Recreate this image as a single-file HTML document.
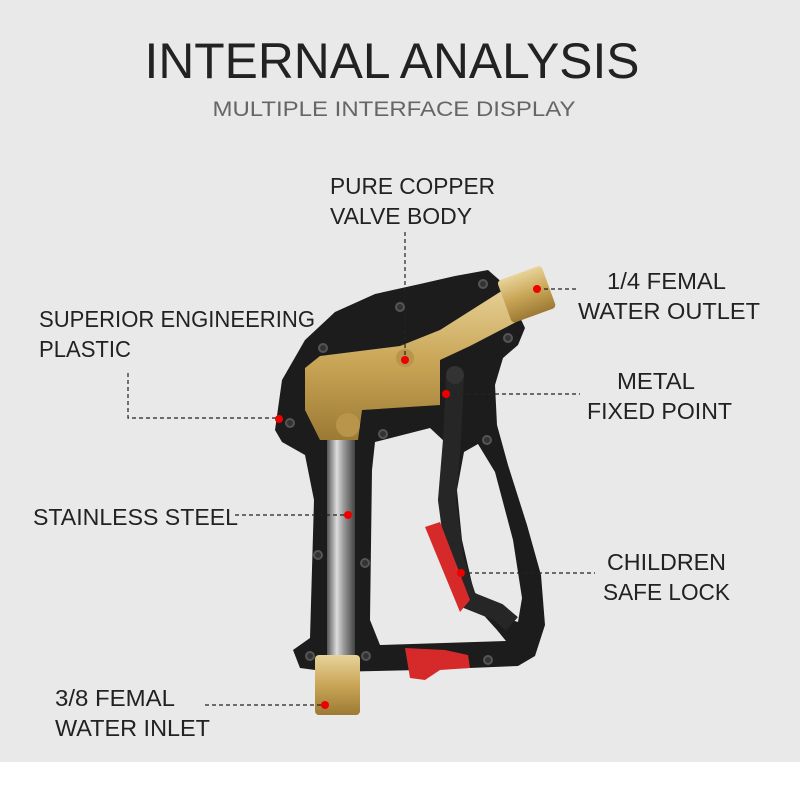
<!DOCTYPE html>
<html><head><meta charset="utf-8"><style>
html,body{margin:0;padding:0;background:#fff}
svg{display:block}
text{font-family:"Liberation Sans",sans-serif}
</style></head><body>
<svg width="800" height="794" viewBox="0 0 800 794" xmlns="http://www.w3.org/2000/svg">
<defs>
<linearGradient id="brass" x1="0" y1="0" x2="0" y2="1">
<stop offset="0" stop-color="#e8d39a"/><stop offset="0.5" stop-color="#c9a657"/><stop offset="1" stop-color="#9c7a34"/>
</linearGradient>
<linearGradient id="steel" x1="0" y1="0" x2="1" y2="0">
<stop offset="0" stop-color="#555"/><stop offset="0.35" stop-color="#ddd"/><stop offset="0.6" stop-color="#999"/><stop offset="1" stop-color="#444"/>
</linearGradient>
</defs>
<rect width="800" height="794" fill="#fff"/>
<rect width="800" height="762" fill="#e9e9e9"/>

<text x="392" y="78" text-anchor="middle" font-size="50" fill="#222" textLength="495" lengthAdjust="spacingAndGlyphs">INTERNAL ANALYSIS</text>
<text x="394" y="116" text-anchor="middle" font-size="21" fill="#666" textLength="363" lengthAdjust="spacingAndGlyphs">MULTIPLE INTERFACE DISPLAY</text>

<!-- body -->
<path d="M275,430 L282,380 L305,340 L335,312 L375,294 L420,284 L455,276 L488,270 L505,285 L525,328 L518,345 L503,358 L495,385 L497,425 L508,465 L527,525 L541,575 L545,625 L535,656 L518,666 L420,670 L330,672 L300,668 L293,650 L310,638 L314,500 L305,455 L282,442 Z" fill="#1c1c1c"/>
<path d="M375,442 L430,428 L445,442 L440,482 L450,542 L470,600 L497,630 L506,641 L380,645 L370,620 L372,470 Z" fill="#e9e9e9"/>
<path d="M464,452 L478,444 L495,472 L513,540 L522,598 L518,622 L505,618 L490,604 L474,592 L462,540 L457,490 Z" fill="#e9e9e9"/>
<!-- trigger -->
<path d="M455,378 L452,440 L447,500 L455,560 L468,600 L498,612 L512,624" fill="none" stroke="#262626" stroke-width="18" stroke-linejoin="round"/>
<circle cx="455" cy="375" r="9" fill="#333"/>
<path d="M425,527 L440,522 L470,600 L460,612 Z" fill="#d62a2a"/>
<path d="M405,648 L445,650 L468,655 L470,668 L440,670 L425,680 L410,678 Z" fill="#d62a2a"/>
<!-- brass valve body -->
<path d="M305,368 L320,356 L400,346 L440,330 L500,292 L520,282 L540,296 L520,320 L470,346 L440,360 L440,405 L362,410 L358,440 L320,440 L305,410 Z" fill="url(#brass)"/>
<rect x="503" y="272" width="47" height="45" rx="4" fill="url(#brass)" transform="rotate(-20 526 294)"/>
<circle cx="348" cy="425" r="12" fill="#b8954a"/>
<circle cx="405" cy="358" r="9" fill="#b8954a"/>
<!-- steel tube -->
<rect x="327" y="440" width="28" height="218" fill="url(#steel)"/>
<rect x="315" y="655" width="45" height="60" rx="4" fill="url(#brass)"/>
<!-- screws -->
<g fill="#333" stroke="#555" stroke-width="2">
<circle cx="290" cy="423" r="4"/><circle cx="323" cy="348" r="4"/><circle cx="400" cy="307" r="4"/><circle cx="483" cy="284" r="4"/><circle cx="508" cy="338" r="4"/><circle cx="383" cy="434" r="4"/><circle cx="487" cy="440" r="4"/><circle cx="318" cy="555" r="4"/><circle cx="365" cy="563" r="4"/><circle cx="310" cy="656" r="4"/><circle cx="366" cy="656" r="4"/><circle cx="488" cy="660" r="4"/>
</g>

<!-- leaders -->
<g stroke="#222" stroke-width="1.2" stroke-dasharray="4,3" fill="none">
<path d="M405,232 V360"/>
<path d="M128,373 V418 H279"/>
<path d="M235,515 H348"/>
<path d="M446,394 H580"/>
<path d="M461,573 H595"/>
<path d="M205,705 H325"/>
<path d="M537,289 H578"/>
</g>
<g fill="#e00">
<circle cx="405" cy="360" r="4"/><circle cx="279" cy="419" r="4"/><circle cx="446" cy="394" r="4"/><circle cx="348" cy="515" r="4"/><circle cx="461" cy="573" r="4"/><circle cx="325" cy="705" r="4"/><circle cx="537" cy="289" r="4"/>
</g>

<g font-size="23" fill="#222">
<text x="330" y="194" textLength="165" lengthAdjust="spacingAndGlyphs">PURE COPPER</text>
<text x="330" y="224" textLength="142" lengthAdjust="spacingAndGlyphs">VALVE BODY</text>
<text x="607" y="289" textLength="119" lengthAdjust="spacingAndGlyphs">1/4 FEMAL</text>
<text x="578" y="319" textLength="182" lengthAdjust="spacingAndGlyphs">WATER OUTLET</text>
<text x="617" y="389" textLength="78" lengthAdjust="spacingAndGlyphs">METAL</text>
<text x="587" y="419" textLength="145" lengthAdjust="spacingAndGlyphs">FIXED POINT</text>
<text x="607" y="570" textLength="119" lengthAdjust="spacingAndGlyphs">CHILDREN</text>
<text x="603" y="600" textLength="127" lengthAdjust="spacingAndGlyphs">SAFE LOCK</text>
<text x="39" y="327" textLength="276" lengthAdjust="spacingAndGlyphs">SUPERIOR ENGINEERING</text>
<text x="39" y="357" textLength="92" lengthAdjust="spacingAndGlyphs">PLASTIC</text>
<text x="33" y="525" textLength="205" lengthAdjust="spacingAndGlyphs">STAINLESS STEEL</text>
<text x="55" y="706" textLength="120" lengthAdjust="spacingAndGlyphs">3/8 FEMAL</text>
<text x="55" y="736" textLength="155" lengthAdjust="spacingAndGlyphs">WATER INLET</text>
</g>
</svg>
</body></html>
